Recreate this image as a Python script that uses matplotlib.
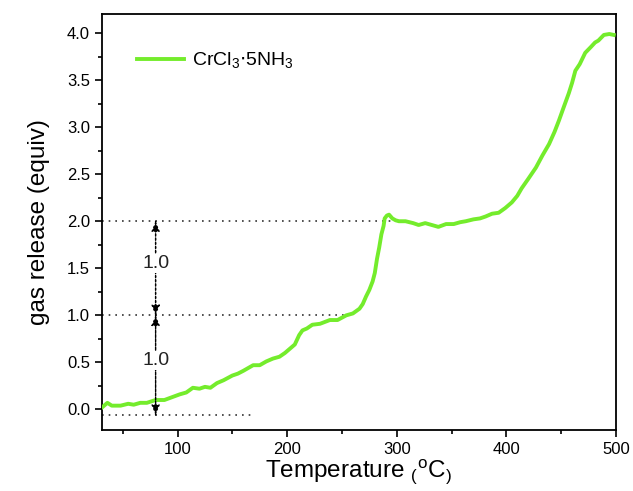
import matplotlib
matplotlib.use("Agg")
import matplotlib.pyplot as plt
from matplotlib.ticker import MultipleLocator

plt.rcParams['font.family'] = ['Liberation Sans', 'DejaVu Sans']

# temperature (oC) and gas release (equiv)
temperature = [31, 36, 40, 48, 55, 60, 66, 72, 80, 88, 95, 102, 108, 114, 120, 125,
               130, 136, 142, 150, 155, 160, 169, 175, 181, 187, 193, 198, 202,
               207, 211, 214, 218, 223, 230, 239, 246, 254, 260, 266, 269, 272,
               275, 278, 280, 282, 284, 286, 288, 289, 291, 293, 296, 299, 302,
               308, 315, 320, 326, 332, 338, 345, 352, 358, 363, 370, 376, 381,
               387, 393, 399, 405, 410, 414, 420, 427, 433, 439, 444, 448, 452,
               457, 460, 463, 467, 472, 477, 481, 484, 489, 494, 498]
gas_release = [0.02, 0.07, 0.04, 0.04, 0.06, 0.05, 0.07, 0.07, 0.1, 0.1, 0.13, 0.16, 0.18,
               0.23, 0.22, 0.24, 0.23, 0.28, 0.31, 0.36, 0.38, 0.41, 0.47, 0.47, 0.51,
               0.54, 0.56, 0.6, 0.64, 0.69, 0.79, 0.84, 0.86, 0.9, 0.91, 0.95, 0.95,
               1.0, 1.02, 1.07, 1.12, 1.2, 1.27, 1.36, 1.45, 1.6, 1.72, 1.86, 1.95,
               2.03, 2.06, 2.07, 2.03, 2.01, 2.0, 2.0, 1.98, 1.96, 1.98, 1.96, 1.94,
               1.97, 1.97, 1.99, 2.0, 2.02, 2.03, 2.05, 2.08, 2.09, 2.14, 2.2, 2.27,
               2.35, 2.45, 2.57, 2.7, 2.82, 2.95, 3.07, 3.2, 3.36, 3.47, 3.6, 3.67,
               3.79, 3.85, 3.9, 3.92, 3.98, 3.99, 3.98]

step_levels = [-0.06, 1.0, 2.0]
step_line_end = [170, 255, 300]
arrow_x = 80
step_labels = ['1.0', '1.0']

fig = plt.figure(figsize=(6.33, 4.91), dpi=100)
ax = fig.add_axes([0.161, 0.124, 0.812, 0.847])

ax.plot(temperature, gas_release, color='#74ec2c', lw=2.8,
        label=r'CrCl$_\mathregular{3}$$\cdot$5NH$_\mathregular{3}$', zorder=3)

for lev, xend in zip(step_levels, step_line_end):
    ax.plot([31, xend], [lev, lev], color='#333333', ls=(0, (1, 3)), lw=1.2, zorder=2)

for i in range(2):
    ax.annotate('', xy=(arrow_x, step_levels[i]), xytext=(arrow_x, step_levels[i + 1]),
                arrowprops=dict(arrowstyle='-|>,head_length=0.6,head_width=0.25',
                                color='black', lw=1.0, ls=(0, (1, 2)),
                                shrinkA=0, shrinkB=0))
    ax.annotate('', xy=(arrow_x, step_levels[i + 1]), xytext=(arrow_x, step_levels[i]),
                arrowprops=dict(arrowstyle='-|>,head_length=0.6,head_width=0.25',
                                color='black', lw=1.0, ls=(0, (1, 2)),
                                shrinkA=0, shrinkB=0))
    ax.text(arrow_x, (step_levels[i] + step_levels[i + 1]) / 2 + 0.05, step_labels[i],
            ha='center', va='center', fontsize=14, color='#222222',
            bbox=dict(facecolor='white', edgecolor='none', pad=1), zorder=4)

ax.set_xlim(31, 500)
ax.set_ylim(-0.22, 4.2)
ax.xaxis.set_major_locator(MultipleLocator(100))
ax.xaxis.set_minor_locator(MultipleLocator(50))
ax.yaxis.set_major_locator(MultipleLocator(0.5))
ax.yaxis.set_minor_locator(MultipleLocator(0.25))
ax.yaxis.set_major_formatter(matplotlib.ticker.FormatStrFormatter('%.1f'))
ax.tick_params(which='major', direction='out', length=5, width=1.2, labelsize=12)
ax.tick_params(which='minor', direction='out', length=3, width=1.2)
ax.tick_params(top=False, right=False)
for s in ax.spines.values():
    s.set_linewidth(1.3)

ax.set_xlabel(r'Temperature $\mathregular{_({}^oC_)}$', fontsize=17.5, labelpad=0)
ax.set_ylabel('gas release (equiv)', fontsize=17.5, labelpad=12)

ax.legend(loc='upper left', frameon=False, fontsize=14, handlelength=2.4,
          handletextpad=0.4, bbox_to_anchor=(0.035, 0.955))

fig.savefig('out.png', dpi=100)
